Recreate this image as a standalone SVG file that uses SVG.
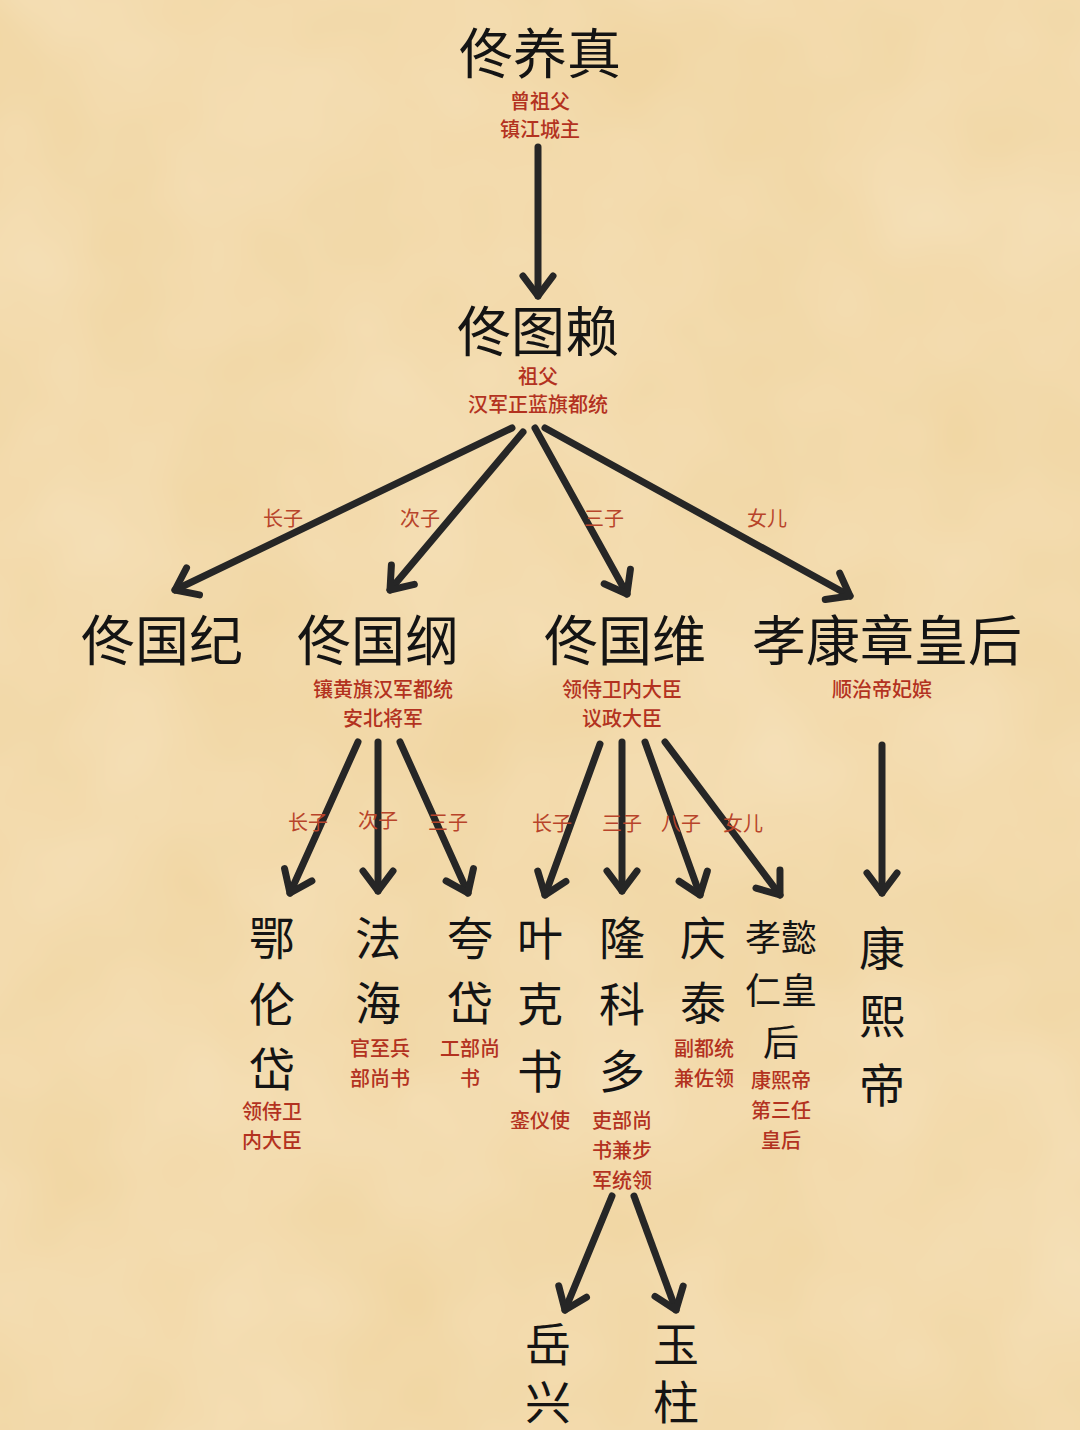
<svg xmlns="http://www.w3.org/2000/svg" width="1080" height="1430" viewBox="0 0 1080 1430">
<style>
.n{font-family:"Noto Sans CJK SC","Noto Sans",sans-serif;fill:#141414;text-anchor:middle;dominant-baseline:central;font-size:54px}
.v{font-family:"Noto Sans CJK SC","Noto Sans",sans-serif;fill:#141414;text-anchor:middle;dominant-baseline:central;font-size:46px}
.s{font-family:"Noto Sans CJK SC","Noto Sans",sans-serif;fill:#b3321f;text-anchor:middle;dominant-baseline:central;font-size:20px;font-weight:500}
.l{font-family:"Noto Sans CJK SC","Noto Sans",sans-serif;fill:#b8442a;text-anchor:middle;dominant-baseline:central;font-size:20px}
.c line{stroke:#262626;stroke-width:7;stroke-linecap:round;marker-end:url(#ah)}
</style>
<defs>
<marker id="ah" markerUnits="userSpaceOnUse" markerWidth="60" markerHeight="60" viewBox="-30 -30 60 60" refX="0" refY="0" orient="auto" overflow="visible">
<path d="M-20,-15 L0,0 L-20,15" fill="none" stroke="#262626" stroke-width="7" stroke-linecap="round" stroke-linejoin="round"/>
</marker>
<filter id="tex" x="0" y="0" width="100%" height="100%">
<feTurbulence type="fractalNoise" baseFrequency="0.006" numOctaves="3" seed="7"/>
<feColorMatrix type="matrix" values="0 0 0 0 1  0 0 0 0 0.95  0 0 0 0 0.85  0 0 0 0.35 -0.05"/>
</filter>
</defs>
<rect width="1080" height="1430" fill="#f1d6a3"/>
<rect width="1080" height="1430" filter="url(#tex)"/>

<g class="c" id="connectors">
<line x1="538" y1="147" x2="538" y2="296"/>
<line x1="512" y1="428" x2="175" y2="590"/>
<line x1="523" y1="432" x2="390" y2="590"/>
<line x1="535" y1="428" x2="627" y2="594"/>
<line x1="545" y1="428" x2="850" y2="596"/>
<line x1="358" y1="742" x2="290" y2="893"/>
<line x1="378" y1="742" x2="378" y2="891"/>
<line x1="400" y1="742" x2="468" y2="893"/>
<line x1="600" y1="744" x2="545" y2="895"/>
<line x1="622" y1="742" x2="622" y2="891"/>
<line x1="645" y1="742" x2="700" y2="895"/>
<line x1="665" y1="742" x2="780" y2="895"/>
<line x1="882" y1="745" x2="882" y2="893"/>
<line x1="612" y1="1196" x2="565" y2="1310"/>
<line x1="634" y1="1196" x2="676" y2="1310"/>
</g>

<g id="edge-labels">
<text class="l" x="283" y="517">长子</text>
<text class="l" x="420" y="517">次子</text>
<text class="l" x="604" y="517">三子</text>
<text class="l" x="767" y="517">女儿</text>
<text class="l" x="308" y="821">长子</text>
<text class="l" x="378" y="819">次子</text>
<text class="l" x="448" y="821">三子</text>
<text class="l" x="552" y="822">长子</text>
<text class="l" x="622" y="822">三子</text>
<text class="l" x="681" y="822">八子</text>
<text class="l" x="743" y="822">女儿</text>
</g>

<g id="n-tongyangzhen">
<text class="n" x="540" y="50">佟养真</text>
<text class="s" x="540" y="100">曾祖父</text>
<text class="s" x="540" y="128">镇江城主</text>
</g>
<g id="n-tongtulai">
<text class="n" x="538" y="328">佟图赖</text>
<text class="s" x="538" y="375">祖父</text>
<text class="s" x="538" y="403">汉军正蓝旗都统</text>
</g>
<g id="n-tongguoji">
<text class="n" x="162" y="637">佟国纪</text>
</g>
<g id="n-tongguogang">
<text class="n" x="378" y="637">佟国纲</text>
<text class="s" x="383" y="688">镶黄旗汉军都统</text>
<text class="s" x="383" y="717">安北将军</text>
</g>
<g id="n-tongguowei">
<text class="n" x="625" y="637">佟国维</text>
<text class="s" x="622" y="688">领侍卫内大臣</text>
<text class="s" x="622" y="717">议政大臣</text>
</g>
<g id="n-xiaokang">
<text class="n" x="887" y="637">孝康章皇后</text>
<text class="s" x="882" y="688">顺治帝妃嫔</text>
</g>

<g id="n-elundai">
<text class="v" x="272" y="935">鄂</text>
<text class="v" x="272" y="1001">伦</text>
<text class="v" x="272" y="1066">岱</text>
<text class="s" x="272" y="1110">领侍卫</text>
<text class="s" x="272" y="1139">内大臣</text>
</g>
<g id="n-fahai">
<text class="v" x="378" y="935">法</text>
<text class="v" x="378" y="1000">海</text>
<text class="s" x="380" y="1047">官至兵</text>
<text class="s" x="380" y="1077">部尚书</text>
</g>
<g id="n-kuadai">
<text class="v" x="470" y="935">夸</text>
<text class="v" x="470" y="1000">岱</text>
<text class="s" x="470" y="1047">工部尚</text>
<text class="s" x="470" y="1077">书</text>
</g>
<g id="n-yekeshu">
<text class="v" x="540" y="935">叶</text>
<text class="v" x="540" y="1001">克</text>
<text class="v" x="540" y="1068">书</text>
<text class="s" x="540" y="1119">銮仪使</text>
</g>
<g id="n-longkeduo">
<text class="v" x="622" y="935">隆</text>
<text class="v" x="622" y="1001">科</text>
<text class="v" x="622" y="1068">多</text>
<text class="s" x="622" y="1119">吏部尚</text>
<text class="s" x="622" y="1149">书兼步</text>
<text class="s" x="622" y="1179">军统领</text>
</g>
<g id="n-qingtai">
<text class="v" x="703" y="935">庆</text>
<text class="v" x="703" y="1000">泰</text>
<text class="s" x="704" y="1047">副都统</text>
<text class="s" x="704" y="1077">兼佐领</text>
</g>
<g id="n-xiaoyiren">
<text class="v" x="781" y="935" style="font-size:36px">孝懿</text>
<text class="v" x="781" y="988" style="font-size:36px">仁皇</text>
<text class="v" x="781" y="1040" style="font-size:36px">后</text>
<text class="s" x="781" y="1079">康熙帝</text>
<text class="s" x="781" y="1109">第三任</text>
<text class="s" x="781" y="1139">皇后</text>
</g>
<g id="n-kangxi">
<text class="v" x="882" y="945">康</text>
<text class="v" x="882" y="1013">熙</text>
<text class="v" x="882" y="1082">帝</text>
</g>
<g id="n-yuexing">
<text class="v" x="548" y="1341">岳</text>
<text class="v" x="548" y="1399">兴</text>
</g>
<g id="n-yuzhu">
<text class="v" x="676" y="1341">玉</text>
<text class="v" x="676" y="1399">柱</text>
</g>
</svg>
